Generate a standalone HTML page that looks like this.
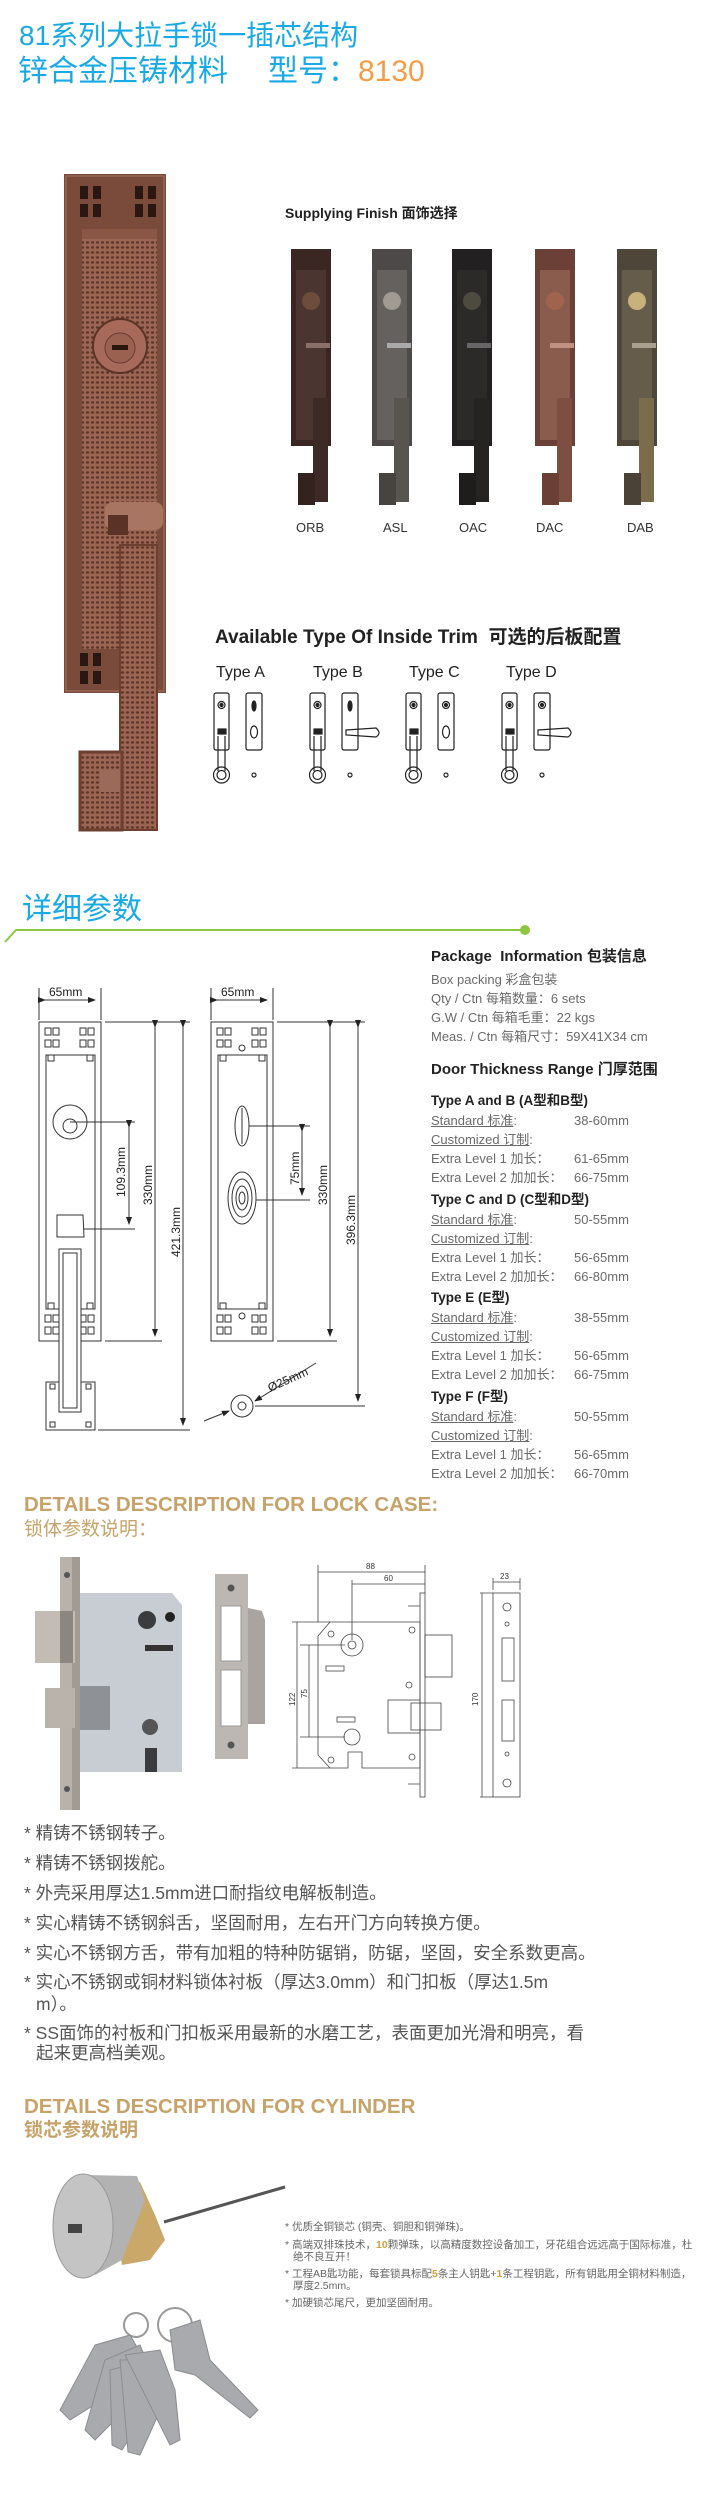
<!DOCTYPE html>
<html><head><meta charset="utf-8">
<style>
*{margin:0;padding:0;box-sizing:border-box}
body{width:710px;height:2494px;background:#fff;position:relative;overflow:hidden;font-family:"Liberation Sans","Noto Sans CJK SC",sans-serif}
.t{position:absolute;white-space:nowrap;line-height:1}
.cy{color:#19a9e4}
.gd{color:#c6a36b;font-weight:bold}
.rc{position:absolute;left:431px;font-size:13px;color:#6a6a6a;white-space:nowrap;line-height:1}
.rh{position:absolute;left:431px;font-size:13.5px;color:#222;font-weight:bold;white-space:nowrap;line-height:1}
.u{text-decoration:underline}
.v{position:absolute;left:574px}
.b{position:absolute;left:24px;font-size:17.5px;color:#555;white-space:nowrap;line-height:1}
.s{position:absolute;left:285px;font-size:10.5px;color:#666;white-space:nowrap;line-height:1}
</style></head><body>

<div class="t cy" style="left:19px;top:22px;font-size:28px">81系列大拉手锁一插芯结构</div>
<div class="t cy" style="left:18px;top:57px;font-size:30px">锌合金压铸材料<span style="display:inline-block;width:40px"></span>型号：<span style="color:#f59c46">8130</span></div>

<svg width="710" height="2494" style="position:absolute;left:0;top:0" xmlns="http://www.w3.org/2000/svg">
<defs>
<pattern id="tx" width="5" height="5" patternUnits="userSpaceOnUse">
<rect width="5" height="5" fill="#9a6552"/><ellipse cx="2.5" cy="2.5" rx="1.6" ry="1.2" fill="#5e3528"/>
</pattern>
<marker id="ar" markerWidth="8" markerHeight="8" refX="7" refY="4" orient="auto" markerUnits="userSpaceOnUse"><path d="M0,1 L8,4 L0,7 Z" fill="#222"/></marker>
</defs>

<!-- big lock photo -->
<g>
<rect x="64" y="174" width="102" height="519" fill="#7a4a3b"/>
<rect x="66" y="176" width="98" height="515" fill="none" stroke="#a77563" stroke-width="1"/>
<g fill="#2a1712">
<rect x="80" y="186" width="8" height="13"/><rect x="93" y="186" width="8" height="13"/><rect x="80" y="204" width="8" height="13"/><rect x="93" y="204" width="8" height="13"/>
<rect x="135" y="186" width="8" height="13"/><rect x="148" y="186" width="8" height="13"/><rect x="135" y="204" width="8" height="13"/><rect x="148" y="204" width="8" height="13"/>
<rect x="80" y="653" width="8" height="13"/><rect x="93" y="653" width="8" height="13"/><rect x="80" y="671" width="8" height="13"/><rect x="93" y="671" width="8" height="13"/>
</g>
<rect x="82" y="229" width="75" height="420" fill="url(#tx)"/>
<rect x="82" y="229" width="75" height="10" fill="#8a5646"/>
<circle cx="120" cy="346" r="27" fill="#a6695a" stroke="#5a3326" stroke-width="2"/>
<circle cx="120" cy="348" r="15" fill="#9a6050" stroke="#6a3c2e"/>
<rect x="112" y="345" width="16" height="5" fill="#2b160f"/>
<rect x="105" y="502" width="58" height="28" rx="8" fill="#a97563"/>
<rect x="108" y="515" width="20" height="20" fill="#5a3326"/>
<rect x="120" y="545" width="37" height="285" fill="url(#tx)"/>
<rect x="120" y="545" width="37" height="285" fill="none" stroke="#6d3f31" stroke-width="2"/>
<rect x="80" y="752" width="42" height="78" fill="url(#tx)" stroke="#6d3f31" stroke-width="3"/>
<rect x="100" y="770" width="20" height="22" fill="#9c6a58"/>
</g>

<!-- finishes -->
<g>
<g transform="translate(291,0)"><rect x="0" y="249" width="40" height="197" fill="#3a2723"/><rect x="5" y="270" width="30" height="170" fill="#4a3530"/><circle cx="20" cy="301" r="9" fill="#6e4c3c"/><rect x="15" y="343" width="24" height="5" fill="#8a7068"/><rect x="22" y="398" width="15" height="104" fill="#3d2925"/><rect x="7" y="473" width="17" height="32" fill="#33221e"/></g>
<g transform="translate(372,0)"><rect x="0" y="249" width="40" height="197" fill="#4d4948"/><rect x="5" y="270" width="30" height="170" fill="#65615f"/><circle cx="20" cy="301" r="9" fill="#a09a92"/><rect x="15" y="343" width="24" height="5" fill="#aaa"/><rect x="22" y="398" width="15" height="104" fill="#58544f"/><rect x="7" y="473" width="17" height="32" fill="#47433f"/></g>
<g transform="translate(452,0)"><rect x="0" y="249" width="40" height="197" fill="#222020"/><rect x="5" y="270" width="30" height="170" fill="#2c2a29"/><circle cx="20" cy="301" r="9" fill="#4d4a40"/><rect x="15" y="343" width="24" height="5" fill="#666"/><rect x="22" y="398" width="15" height="104" fill="#262423"/><rect x="7" y="473" width="17" height="32" fill="#1f1d1c"/></g>
<g transform="translate(535,0)"><rect x="0" y="249" width="40" height="197" fill="#6b4137"/><rect x="5" y="270" width="30" height="170" fill="#8a5c4e"/><circle cx="20" cy="301" r="9" fill="#a0634e"/><rect x="15" y="343" width="24" height="5" fill="#c09080"/><rect x="22" y="398" width="15" height="104" fill="#7d4f42"/><rect x="7" y="473" width="17" height="32" fill="#6a4036"/></g>
<g transform="translate(617,0)"><rect x="0" y="249" width="40" height="197" fill="#4e4639"/><rect x="5" y="270" width="30" height="170" fill="#665c4b"/><circle cx="20" cy="301" r="9" fill="#c7b27e"/><rect x="15" y="343" width="24" height="5" fill="#aaa090"/><rect x="22" y="398" width="15" height="104" fill="#7b6c4c"/><rect x="7" y="473" width="17" height="32" fill="#4a4236"/></g>
</g>

<!-- trim types -->
<g fill="none" stroke="#222" stroke-width="1.2">
<g id="ta">
<rect x="214" y="693" width="15" height="57" rx="2"/>
<circle cx="221.5" cy="705" r="3.5"/><circle cx="221.5" cy="705" r="1.5" fill="#222"/>
<rect x="218" y="729" width="8" height="5" fill="#222"/>
<path d="M218,736 L218,771 M225,736 L225,771"/>
<circle cx="221.5" cy="775" r="8"/><circle cx="221.5" cy="775" r="4.5"/>
<rect x="246" y="693" width="16" height="57" rx="2"/>
<circle cx="254" cy="775" r="2"/>
</g>
<g transform="translate(96,0)"><use href="#ta"/></g>
<g transform="translate(192,0)"><use href="#ta"/></g>
<g transform="translate(288,0)"><use href="#ta"/></g>
<!-- second plate features -->
<ellipse cx="254" cy="706" rx="2" ry="5" fill="#222"/><ellipse cx="254" cy="732" rx="3.5" ry="6"/>
<ellipse cx="350" cy="706" rx="2" ry="5" fill="#222"/><path d="M346,730 L376,728 Q382,733 376,737 L346,735 Z"/>
<circle cx="446" cy="705" r="3.5"/><circle cx="446" cy="705" r="1.5" fill="#222"/><ellipse cx="446" cy="732" rx="3.5" ry="6"/>
<circle cx="542" cy="705" r="3.5"/><circle cx="542" cy="705" r="1.5" fill="#222"/><path d="M538,730 L568,728 Q574,733 568,737 L538,735 Z"/>
</g>

<!-- green line -->
<path d="M5,942 L16,930 L525,930" stroke="#8dc63f" stroke-width="2" fill="none"/>
<circle cx="525" cy="930" r="5" fill="#8dc63f"/>

<!-- left drawing -->
<g fill="none" stroke="#333" stroke-width="1">
<rect x="39" y="1022" width="62" height="319"/>
<rect x="46" y="1055" width="49" height="254"/>
<g id="sq"><rect x="45" y="1028" width="6" height="7"/><rect x="53" y="1028" width="6" height="7"/><rect x="45" y="1040" width="6" height="7"/><rect x="53" y="1040" width="6" height="7"/></g>
<use href="#sq" transform="translate(35,0)"/><use href="#sq" transform="translate(0,287)"/><use href="#sq" transform="translate(35,287)"/>
<rect x="48" y="1055" width="6" height="6"/><rect x="87" y="1055" width="6" height="6"/><rect x="48" y="1303" width="6" height="6"/><rect x="87" y="1303" width="6" height="6"/>
<circle cx="70" cy="1122" r="17"/><circle cx="70" cy="1126" r="7"/>
<path d="M57,1215 L83,1215 L84,1237 L57,1237 Z"/>
<rect x="46" y="1382" width="49" height="48"/>
<rect x="59" y="1249" width="22" height="163" fill="#fff"/><rect x="63" y="1253" width="14" height="155"/>
<rect x="50" y="1384" width="5" height="5"/><rect x="86" y="1384" width="5" height="5"/><rect x="50" y="1422" width="5" height="5"/><rect x="86" y="1422" width="5" height="5"/>
<path d="M39,988 L39,1020 M101,988 L101,1020"/>
<path d="M45,1000 L95,1000" marker-start="url(#ar)" marker-end="url(#ar)"/>
<path d="M70,1122 L135,1122 M84,1229 L135,1229 M105,1022 L190,1022 M105,1341 L162,1341 M98,1430 L190,1430"/>
<path d="M129,1127 L129,1224" marker-start="url(#ar)" marker-end="url(#ar)"/>
<path d="M155,1027 L155,1336" marker-start="url(#ar)" marker-end="url(#ar)"/>
<path d="M183,1027 L183,1425" marker-start="url(#ar)" marker-end="url(#ar)"/>
</g>
<!-- right drawing -->
<g fill="none" stroke="#333" stroke-width="1">
<rect x="211" y="1022" width="62" height="319"/>
<rect x="218" y="1055" width="49" height="254"/>
<use href="#sq" transform="translate(172,0)"/><use href="#sq" transform="translate(207,0)"/><use href="#sq" transform="translate(172,287)"/><use href="#sq" transform="translate(207,287)"/>
<rect x="220" y="1055" width="6" height="6"/><rect x="259" y="1055" width="6" height="6"/><rect x="220" y="1303" width="6" height="6"/><rect x="259" y="1303" width="6" height="6"/>
<circle cx="242" cy="1048" r="3"/><circle cx="242" cy="1316" r="3"/>
<ellipse cx="242" cy="1126" rx="7" ry="20"/><path d="M242,1108 L242,1144"/>
<ellipse cx="242" cy="1198" rx="14" ry="26"/><ellipse cx="242" cy="1198" rx="10" ry="19"/><ellipse cx="242" cy="1198" rx="6" ry="12"/><ellipse cx="242" cy="1198" rx="3" ry="6"/>
<path d="M211,988 L211,1020 M273,988 L273,1020"/>
<path d="M217,1000 L267,1000" marker-start="url(#ar)" marker-end="url(#ar)"/>
<path d="M249,1126 L310,1126 M256,1200 L310,1200 M277,1022 L365,1022 M277,1341 L337,1341 M255,1406 L365,1406"/>
<path d="M302,1131 L302,1195" marker-start="url(#ar)" marker-end="url(#ar)"/>
<path d="M330,1027 L330,1336" marker-start="url(#ar)" marker-end="url(#ar)"/>
<path d="M358,1027 L358,1401" marker-start="url(#ar)" marker-end="url(#ar)"/>
<circle cx="242" cy="1406" r="11"/><circle cx="242" cy="1406" r="4"/>
<path d="M204,1421 L229,1411" marker-end="url(#ar)"/><path d="M316,1363 L255,1401" marker-end="url(#ar)"/>
</g>
<g font-family="Liberation Sans" font-size="12" fill="#222">
<text x="49" y="996">65mm</text><text x="221" y="996">65mm</text>
<text transform="translate(125,1197) rotate(-90)">109.3mm</text>
<text transform="translate(152,1205) rotate(-90)">330mm</text>
<text transform="translate(180,1257) rotate(-90)">421.3mm</text>
<text transform="translate(299,1185) rotate(-90)">75mm</text>
<text transform="translate(327,1205) rotate(-90)">330mm</text>
<text transform="translate(355,1245) rotate(-90)">396.3mm</text>
<text transform="translate(270,1392) rotate(-24)">Ø25mm</text>
</g>

<!-- lock case photo -->
<g>
<rect x="60" y="1557" width="20" height="253" fill="#b9b2ab"/>
<rect x="72" y="1557" width="8" height="253" fill="#a29b94"/>
<path d="M80,1593 L172,1593 L182,1605 L182,1772 L80,1772 Z" fill="#c8ccd3"/>
<circle cx="67" cy="1575" r="3" fill="#555"/><circle cx="67" cy="1789" r="3" fill="#555"/>
<rect x="35" y="1611" width="40" height="52" fill="#c2bcb5"/><rect x="60" y="1611" width="13" height="52" fill="#8c8680"/>
<rect x="45" y="1688" width="30" height="40" fill="#bab3ac"/>
<rect x="80" y="1686" width="30" height="44" fill="#8e9196"/>
<circle cx="147" cy="1620" r="9" fill="#3a3c40"/><circle cx="170" cy="1617" r="5" fill="#222"/>
<rect x="145" y="1645" width="28" height="6" fill="#333"/>
<circle cx="150" cy="1727" r="8" fill="#555"/>
<rect x="145" y="1748" width="12" height="24" fill="#3a3c40"/>
</g>
<!-- strike plate -->
<g>
<path d="M248,1608 L262,1611 L265,1620 L265,1724 L248,1724 Z" fill="#a9a49f"/>
<rect x="215" y="1574" width="33" height="185" fill="#bcb7b2"/>
<rect x="221" y="1606" width="20" height="55" fill="#fff" stroke="#999"/>
<rect x="221" y="1670" width="20" height="56" fill="#fff" stroke="#999"/>
<circle cx="231" cy="1588" r="3.5" fill="#555"/><circle cx="231" cy="1745" r="3.5" fill="#555"/>
</g>
<!-- lockcase drawing -->
<g fill="none" stroke="#444" stroke-width="0.8">
<path d="M330,1622 L420,1622 L420,1768 L362,1768 L362,1752 L348,1752 L348,1768 L330,1768 L318,1755 L318,1636 Z"/>
<rect x="420" y="1593" width="5" height="204"/>
<rect x="425" y="1635" width="27" height="42"/>
<rect x="388" y="1700" width="32" height="33"/><rect x="411" y="1703" width="30" height="27"/>
<circle cx="352" cy="1645" r="11"/><circle cx="352" cy="1645" r="4"/>
<circle cx="352" cy="1737" r="8"/>
<circle cx="331" cy="1634" r="3"/><circle cx="412" cy="1630" r="3"/><circle cx="409" cy="1685" r="3"/><circle cx="331" cy="1760" r="3"/><circle cx="412" cy="1757" r="3"/>
<rect x="326" y="1666" width="18" height="5"/><rect x="337" y="1717" width="18" height="5"/>
<path d="M408,1606 L420,1606 M408,1784 L420,1784"/>
<path d="M318,1565 L318,1622 M425,1565 L425,1593 M352,1580 L352,1640"/>
<path d="M318,1572 L425,1572 M352,1584 L425,1584"/>
<path d="M292,1622 L330,1622 M300,1645 L345,1645 M292,1768 L330,1768 M300,1737 L345,1737"/>
<path d="M297,1622 L297,1768 M309,1645 L309,1737"/>
<rect x="493" y="1593" width="27" height="204"/>
<rect x="502" y="1638" width="12" height="43"/><rect x="502" y="1700" width="12" height="41"/>
<circle cx="507" cy="1607" r="4"/><circle cx="507" cy="1783" r="4"/><circle cx="507" cy="1624" r="2"/><circle cx="507" cy="1754" r="2"/>
<path d="M493,1578 L493,1590 M520,1578 L520,1590 M493,1582 L520,1582"/>
<path d="M480,1593 L493,1593 M480,1797 L493,1797 M482,1593 L482,1797"/>
</g>
<g font-family="Liberation Sans" font-size="8" fill="#333">
<text x="366" y="1569">88</text><text x="384" y="1581">60</text><text x="500" y="1579">23</text>
<text transform="translate(295,1706) rotate(-90)">122</text><text transform="translate(307,1698) rotate(-90)">75</text>
<text transform="translate(478,1706) rotate(-90)">170</text>
</g>

<!-- cylinder -->
<g>
<line x1="164" y1="2222" x2="285" y2="2187" stroke="#555" stroke-width="3"/>
<path d="M110,2190 L140,2182 L155,2215 L165,2240 L150,2260 L122,2265 Z" fill="#c9a86a"/>
<path d="M85,2175 L137,2176 L145,2200 L122,2260 L95,2275 Z" fill="#b2b2b2"/>
<ellipse cx="83" cy="2226" rx="30" ry="52" fill="#c4c4c4" stroke="#999"/>
<rect x="68" y="2224" width="14" height="9" fill="#444"/>
</g>
<!-- keys -->
<g fill="#a8aaae" stroke="#8a8c90">
<circle cx="136" cy="2325" r="12" fill="none" stroke="#999" stroke-width="2"/>
<circle cx="175" cy="2325" r="17" fill="none" stroke="#999" stroke-width="2"/>
<path d="M95,2345 L130,2335 L150,2370 L70,2420 L60,2410 Z"/>
<path d="M105,2360 L140,2345 L155,2380 L95,2440 L85,2430 Z"/>
<path d="M110,2370 L150,2360 L160,2390 L122,2450 L112,2445 Z"/>
<path d="M120,2360 L160,2360 L165,2400 L140,2455 L128,2452 Z"/>
<path d="M125,2355 L160,2350 L175,2390 L180,2440 L170,2445 Z"/>
<path d="M170,2330 L200,2320 L210,2360 L258,2410 L250,2418 L195,2375 L175,2370 Z"/>
</g>
</svg>

<div class="t cy" style="left:22px;top:895px;font-size:30px">详细参数</div>

<div class="rh" style="top:949px;font-size:15px">Package&nbsp; Information 包装信息</div>
<div class="rc" style="top:973px">Box packing 彩盒包装</div>
<div class="rc" style="top:992px">Qty / Ctn 每箱数量：6 sets</div>
<div class="rc" style="top:1011px">G.W / Ctn 每箱毛重：22 kgs</div>
<div class="rc" style="top:1030px">Meas. / Ctn 每箱尺寸：59X41X34 cm</div>
<div class="rh" style="top:1062px;font-size:15px">Door Thickness Range 门厚范围</div>

<div class="rh" style="top:1094px">Type A and B (A型和B型)</div>
<div class="rc" style="top:1114px"><span class="u">Standard 标准</span>:<span class="v" style="left:143px">38-60mm</span></div>
<div class="rc" style="top:1133px"><span class="u">Customized 订制</span>:</div>
<div class="rc" style="top:1152px">Extra Level 1 加长：<span class="v" style="left:143px">61-65mm</span></div>
<div class="rc" style="top:1171px">Extra Level 2 加加长：<span class="v" style="left:143px">66-75mm</span></div>
<div class="rh" style="top:1193px">Type C and D (C型和D型)</div>
<div class="rc" style="top:1213px"><span class="u">Standard 标准</span>:<span class="v" style="left:143px">50-55mm</span></div>
<div class="rc" style="top:1232px"><span class="u">Customized 订制</span>:</div>
<div class="rc" style="top:1251px">Extra Level 1 加长：<span class="v" style="left:143px">56-65mm</span></div>
<div class="rc" style="top:1270px">Extra Level 2 加加长：<span class="v" style="left:143px">66-80mm</span></div>
<div class="rh" style="top:1291px">Type E (E型)</div>
<div class="rc" style="top:1311px"><span class="u">Standard 标准</span>:<span class="v" style="left:143px">38-55mm</span></div>
<div class="rc" style="top:1330px"><span class="u">Customized 订制</span>:</div>
<div class="rc" style="top:1349px">Extra Level 1 加长：<span class="v" style="left:143px">56-65mm</span></div>
<div class="rc" style="top:1368px">Extra Level 2 加加长：<span class="v" style="left:143px">66-75mm</span></div>
<div class="rh" style="top:1390px">Type F (F型)</div>
<div class="rc" style="top:1410px"><span class="u">Standard 标准</span>:<span class="v" style="left:143px">50-55mm</span></div>
<div class="rc" style="top:1429px"><span class="u">Customized 订制</span>:</div>
<div class="rc" style="top:1448px">Extra Level 1 加长：<span class="v" style="left:143px">56-65mm</span></div>
<div class="rc" style="top:1467px">Extra Level 2 加加长：<span class="v" style="left:143px">66-70mm</span></div>

<div class="t" style="left:285px;top:206px;font-size:14px;font-weight:bold;color:#222">Supplying Finish 面饰选择</div>
<div class="t" style="left:296px;top:521px;font-size:13px;color:#333">ORB</div>
<div class="t" style="left:383px;top:521px;font-size:13px;color:#333">ASL</div>
<div class="t" style="left:459px;top:521px;font-size:13px;color:#333">OAC</div>
<div class="t" style="left:536px;top:521px;font-size:13px;color:#333">DAC</div>
<div class="t" style="left:627px;top:521px;font-size:13px;color:#333">DAB</div>

<div class="t" style="left:215px;top:628px;font-size:19px;font-weight:bold;color:#222">Available Type Of Inside Trim&nbsp; 可选的后板配置</div>
<div class="t" style="left:216px;top:665px;font-size:16px;color:#222">Type A</div>
<div class="t" style="left:313px;top:665px;font-size:16px;color:#222">Type B</div>
<div class="t" style="left:409px;top:665px;font-size:16px;color:#222">Type C</div>
<div class="t" style="left:506px;top:665px;font-size:16px;color:#222">Type D</div>

<div class="t gd" style="left:24px;top:1495px;font-size:20.5px">DETAILS DESCRIPTION FOR LOCK CASE:</div>
<div class="t" style="left:24px;top:1520px;font-size:19px;color:#c6a36b">锁体参数说明：</div>

<div class="b" style="top:1825px">* 精铸不锈钢转子。</div>
<div class="b" style="top:1855px">* 精铸不锈钢拨舵。</div>
<div class="b" style="top:1885px">* 外壳采用厚达1.5mm进口耐指纹电解板制造。</div>
<div class="b" style="top:1915px">* 实心精铸不锈钢斜舌，坚固耐用，左右开门方向转换方便。</div>
<div class="b" style="top:1945px">* 实心不锈钢方舌，带有加粗的特种防锯销，防锯，坚固，安全系数更高。</div>
<div class="b" style="top:1974px">* 实心不锈钢或铜材料锁体衬板（厚达3.0mm）和门扣板（厚达1.5m</div>
<div class="b" style="top:1996px;left:36px">m）。</div>
<div class="b" style="top:2025px">* SS面饰的衬板和门扣板采用最新的水磨工艺，表面更加光滑和明亮，看</div>
<div class="b" style="top:2045px;left:36px">起来更高档美观。</div>

<div class="t gd" style="left:24px;top:2097px;font-size:20.5px">DETAILS DESCRIPTION FOR CYLINDER</div>
<div class="t" style="left:24px;top:2121px;font-size:19px;color:#c6a36b;font-weight:bold">锁芯参数说明</div>

<div class="s" style="top:2222px">* 优质全铜锁芯 (铜壳、铜胆和铜弹珠)。</div>
<div class="s" style="top:2240px">* 高端双排珠技术，<b style="color:#d4a030">10</b>颗弹珠，以高精度数控设备加工，牙花组合远远高于国际标准，杜</div>
<div class="s" style="top:2252px;left:293px">绝不良互开！</div>
<div class="s" style="top:2269px">* 工程AB匙功能，每套锁具标配<b style="color:#d4a030">5</b>条主人钥匙+<b style="color:#d4a030">1</b>条工程钥匙，所有钥匙用全铜材料制造，</div>
<div class="s" style="top:2281px;left:293px">厚度2.5mm。</div>
<div class="s" style="top:2298px">* 加硬锁芯尾尺，更加坚固耐用。</div>

</body></html>
